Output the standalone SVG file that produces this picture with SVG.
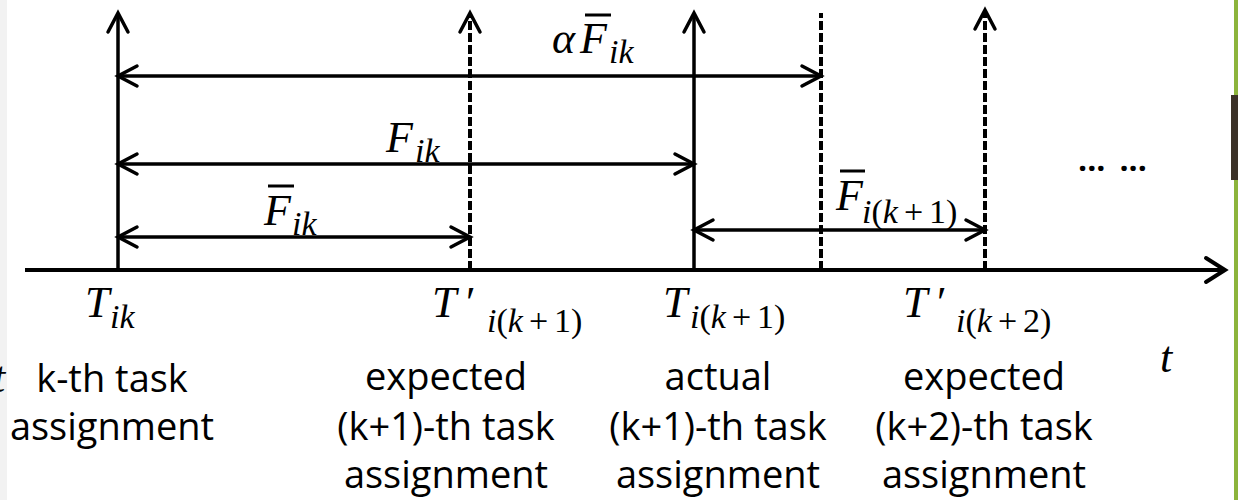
<svg xmlns="http://www.w3.org/2000/svg" width="1238" height="500" viewBox="0 0 1238 500">
<style>
.math{font-family:"Liberation Serif","DejaVu Serif",serif;font-style:italic;font-size:44px;fill:#000}
.sub{font-size:34px}
.up{font-style:normal}
.cap{font-family:"Open Sans","Liberation Sans",sans-serif;font-size:38px;fill:#000;text-anchor:middle}
.solid{stroke:#000;stroke-width:3.5;fill:none}
.dash{stroke:#000;stroke-width:4;stroke-dasharray:9 3;fill:none}
.bar{stroke:#000;stroke-width:3}
</style>
<defs>
<marker id="ah" markerUnits="userSpaceOnUse" markerWidth="30" markerHeight="30" viewBox="-22 -15 30 30" refX="0" refY="0" orient="auto-start-reverse">
<path d="M-19,-10 L0,0 L-19,10" fill="none" stroke="#000" stroke-width="3.5" stroke-linecap="round"/>
</marker>
<marker id="axh" markerUnits="userSpaceOnUse" markerWidth="30" markerHeight="34" viewBox="-24 -17 30 34" refX="0" refY="0" orient="auto">
<path d="M-19,-12 L0,0 L-19,12" fill="none" stroke="#000" stroke-width="4" stroke-linecap="round"/>
</marker>
</defs>
<rect width="1238" height="500" fill="#fff"/>
<rect x="0" y="0" width="7" height="500" fill="#f2f2f2"/>
<rect x="1234" y="0" width="4" height="500" fill="#8cb43c"/>
<rect x="1231" y="95" width="7" height="85" fill="#3b3228"/>

<g id="connectors">
<line x1="25" y1="270" x2="1225" y2="270" stroke="#000" stroke-width="4" marker-end="url(#axh)"/>
<path class="solid" d="M118,270 V13" marker-end="url(#ah)"/>
<path class="dash" d="M470,270 V13" marker-end="url(#ah)"/>
<path class="solid" d="M694,270 V13" marker-end="url(#ah)"/>
<path class="dash" d="M821,270 V13"/>
<path class="dash" d="M985,270 V10" marker-end="url(#ah)"/>
<path class="solid" d="M118,76 H821" marker-start="url(#ah)" marker-end="url(#ah)"/>
<path class="solid" d="M118,164 H694" marker-start="url(#ah)" marker-end="url(#ah)"/>
<path class="solid" d="M118,237 H470" marker-start="url(#ah)" marker-end="url(#ah)"/>
<path class="solid" d="M694,230 H985" marker-start="url(#ah)" marker-end="url(#ah)"/>
</g>

<g id="label-alpha-Fbar-ik">
<text class="math" x="552" y="53">α<tspan x="580">F</tspan><tspan class="sub" x="609" y="63">ik</tspan></text>
<line class="bar" x1="585" y1="15" x2="611" y2="15"/>
</g>
<g id="label-F-ik">
<text class="math" x="386" y="152">F<tspan class="sub" x="415" y="162">ik</tspan></text>
</g>
<g id="label-Fbar-ik">
<text class="math" x="264" y="225">F<tspan class="sub" x="292" y="235">ik</tspan></text>
<line class="bar" x1="268" y1="186" x2="294" y2="186"/>
</g>
<g id="label-Fbar-ik1">
<text class="math" x="836" y="210">F<tspan class="sub" x="862" y="223">i<tspan class="up">(</tspan>k<tspan class="up" dx="6">+</tspan><tspan class="up" dx="6">1)</tspan></tspan></text>
<line class="bar" x1="840" y1="171" x2="865" y2="171"/>
</g>

<g id="node-Tik">
<text class="math" x="85" y="317">T<tspan class="sub" x="110" y="328">ik</tspan></text>
<text class="cap" x="112" y="392">k-th task</text>
<text class="cap" x="112" y="440">assignment</text>
</g>
<g id="node-Tp-ik1">
<text class="math" x="432" y="317">T<tspan class="up" x="466">′</tspan><tspan class="sub" x="487" y="332">i<tspan class="up">(</tspan>k<tspan class="up" dx="6">+</tspan><tspan class="up" dx="6">1)</tspan></tspan></text>
<text class="cap" x="446" y="390">expected</text>
<text class="cap" x="446" y="440">(k+1)-th task</text>
<text class="cap" x="446" y="488">assignment</text>
</g>
<g id="node-T-ik1">
<text class="math" x="663" y="317">T<tspan class="sub" x="690" y="328">i<tspan class="up">(</tspan>k<tspan class="up" dx="6">+</tspan><tspan class="up" dx="6">1)</tspan></tspan></text>
<text class="cap" x="718" y="390">actual</text>
<text class="cap" x="718" y="440">(k+1)-th task</text>
<text class="cap" x="718" y="488">assignment</text>
</g>
<g id="node-Tp-ik2">
<text class="math" x="903" y="317">T<tspan class="up" x="937">′</tspan><tspan class="sub" x="956" y="332">i<tspan class="up">(</tspan>k<tspan class="up" dx="6">+</tspan><tspan class="up" dx="6">2)</tspan></tspan></text>
<text class="cap" x="984" y="390">expected</text>
<text class="cap" x="984" y="440">(k+2)-th task</text>
<text class="cap" x="984" y="488">assignment</text>
</g>
<g id="label-t">
<text class="math" x="1160" y="372">t</text>
<text class="math" x="-7" y="392">t</text>
</g>
<g id="label-ellipsis">
<text x="1078" y="171" font-family="'Open Sans','Liberation Sans',sans-serif" font-weight="bold" font-size="32" fill="#000">...<tspan dx="14">...</tspan></text>
</g>
</svg>
